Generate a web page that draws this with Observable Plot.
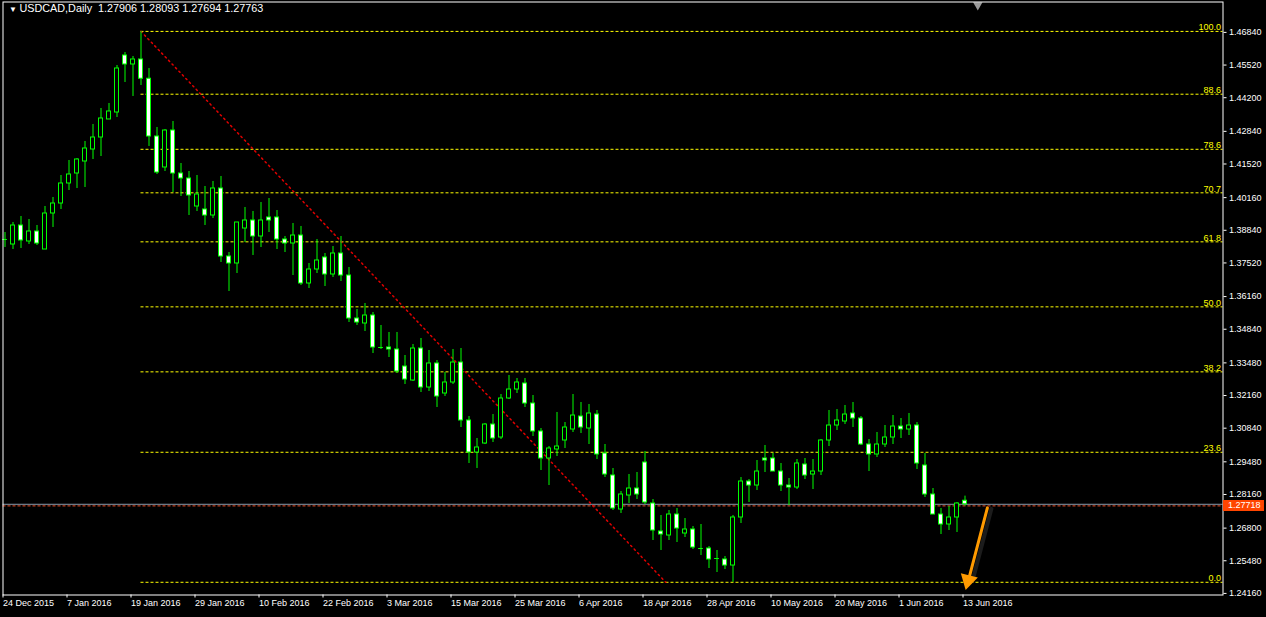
<!DOCTYPE html>
<html><head><meta charset="utf-8">
<script src="https://cdn.jsdelivr.net/npm/d3@7"></script>
<script src="https://cdn.jsdelivr.net/npm/@observablehq/plot@0.6"></script>
<style>
html,body{margin:0;padding:0;background:#000;overflow:hidden;}
svg{display:block;}
</style></head><body><div id="chart"></div>
<script>
// ---- data (USDCAD daily, bar index 0 = 24 Dec 2015) ----
const symbolName = "USDCAD,Daily";
const opens = [1.38468,1.38266,1.39034,1.38387,1.38791,1.38063,1.39519,1.39923,1.40732,1.41136,
1.41621,1.42106,1.42591,1.43320,1.43602,1.45906,1.45543,1.45745,1.44967,1.42632,
1.41379,1.42874,1.41136,1.40934,1.39802,1.39681,1.39438,1.40530,1.37780,1.37498,
1.38912,1.39236,1.38589,1.39357,1.39357,1.38468,1.38306,1.38629,1.36689,1.37255,
1.37740,1.37053,1.37902,1.37012,1.35274,1.35072,1.35395,1.34102,1.34102,1.34021,
1.33333,1.32767,1.34061,1.32484,1.33455,1.32242,1.32687,1.33495,1.31150,1.29857,
1.30220,1.30988,1.30463,1.32040,1.32403,1.32646,1.31837,1.30706,1.29614,1.29978,
1.30342,1.30786,1.31312,1.30827,1.31392,1.29816,1.28927,1.27552,1.28118,1.28401,
1.29452,1.27795,1.26663,1.26501,1.27350,1.26582,1.26744,1.25975,1.25975,1.25571,
1.25531,1.25288,1.27229,1.28684,1.28522,1.29614,1.29614,1.29088,1.28522,1.28441,
1.29371,1.28967,1.29088,1.30342,1.30948,1.31110,1.31433,1.31231,1.30180,1.29776,
1.30180,1.30463,1.30907,1.30786,1.30948,1.29331,1.28159,1.27350,1.26946,1.27229,
1.27906];
const highs = [1.38751,1.39155,1.39398,1.39276,1.39034,1.39802,1.40166,1.41055,1.41662,1.41742,
1.42430,1.43117,1.43764,1.43966,1.45502,1.46028,1.45866,1.46880,1.45381,1.42996,
1.42915,1.43238,1.41540,1.41217,1.41055,1.40610,1.40813,1.41015,1.37942,1.39155,
1.39762,1.39600,1.39964,1.40125,1.39640,1.38589,1.39115,1.38994,1.37498,1.38468,
1.37902,1.38185,1.38589,1.37336,1.35638,1.35880,1.35516,1.34991,1.34708,1.34708,
1.33778,1.34223,1.34465,1.33980,1.33576,1.33091,1.34021,1.34061,1.31312,1.30423,
1.31029,1.31392,1.32201,1.32970,1.32848,1.32848,1.32161,1.30827,1.30099,1.31474,
1.31069,1.32201,1.31878,1.31797,1.31555,1.30180,1.29210,1.28280,1.28967,1.29048,
1.29897,1.27956,1.27310,1.27512,1.27593,1.27188,1.26865,1.26946,1.26056,1.25895,
1.25652,1.27310,1.28846,1.28765,1.29533,1.30140,1.29816,1.29412,1.28806,1.29573,
1.29614,1.29573,1.30382,1.31555,1.31595,1.31757,1.31878,1.31312,1.30382,1.30665,
1.30948,1.31352,1.31231,1.31433,1.31069,1.29816,1.28401,1.27593,1.27674,1.27835,
1.28093];
const lows = [1.38144,1.38063,1.38104,1.38266,1.38225,1.38063,1.38953,1.39681,1.40449,1.40530,
1.40570,1.41702,1.41823,1.43320,1.43400,1.44815,1.44249,1.44694,1.42228,1.41096,
1.41217,1.40368,1.40206,1.39438,1.39600,1.39034,1.39317,1.37538,1.36366,1.37093,
1.38346,1.37821,1.38144,1.38751,1.38063,1.37942,1.37012,1.36608,1.36487,1.37093,
1.36567,1.36932,1.36770,1.35112,1.34991,1.34749,1.33859,1.34021,1.33697,1.33050,
1.32606,1.32727,1.32282,1.32323,1.31676,1.32121,1.32606,1.30867,1.29412,1.29210,
1.30180,1.30261,1.30382,1.32000,1.32242,1.31676,1.30503,1.29129,1.28522,1.29695,
1.30019,1.30665,1.30625,1.30180,1.29573,1.28846,1.27512,1.27391,1.27795,1.27956,
1.27754,1.26299,1.25895,1.26299,1.26218,1.26420,1.25935,1.25692,1.25167,1.25005,
1.25126,1.24610,1.26986,1.27835,1.28320,1.29048,1.29088,1.28280,1.27714,1.28360,
1.28765,1.28360,1.28927,1.30099,1.30746,1.30988,1.30867,1.30140,1.29088,1.29654,
1.30059,1.30180,1.30423,1.30544,1.29169,1.28037,1.27350,1.26542,1.26703,1.26623,
1.27694];
const closes = [1.38468,1.39034,1.38427,1.38791,1.38306,1.39519,1.39923,1.40732,1.41096,1.41702,
1.42147,1.42591,1.43360,1.43643,1.45381,1.45543,1.45745,1.44967,1.42632,1.41176,
1.42874,1.41136,1.40934,1.40247,1.40287,1.39438,1.40530,1.37780,1.37498,1.39155,
1.39236,1.38589,1.39236,1.39236,1.38468,1.38306,1.38629,1.36689,1.37255,1.37619,
1.37053,1.37902,1.37012,1.35274,1.35112,1.35395,1.34102,1.34102,1.34021,1.33131,
1.32808,1.34061,1.32484,1.33455,1.32121,1.32687,1.33495,1.31150,1.29857,1.30059,
1.30988,1.30423,1.32040,1.32403,1.32687,1.31837,1.30706,1.29614,1.30019,1.30099,
1.30867,1.31352,1.30867,1.31433,1.29776,1.28967,1.27593,1.28159,1.28401,1.28159,
1.27835,1.26703,1.26542,1.27350,1.26784,1.26744,1.26016,1.25975,1.25531,1.25571,
1.25288,1.27229,1.28684,1.28522,1.29088,1.29533,1.29088,1.28522,1.28441,1.29412,
1.28927,1.29088,1.30342,1.30948,1.31150,1.31392,1.31231,1.30180,1.29776,1.30180,
1.30463,1.30907,1.30786,1.30948,1.29412,1.28159,1.27350,1.26946,1.27229,1.27795,
1.27763];

const dateTickIndex = [0,8,16,24,32,40,48,56,64,72,80,88,96,104,112,120];
const dateTickLabels = ["24 Dec 2015","7 Jan 2016","19 Jan 2016","29 Jan 2016","10 Feb 2016","22 Feb 2016",
  "3 Mar 2016","15 Mar 2016","25 Mar 2016","6 Apr 2016","18 Apr 2016","28 Apr 2016","10 May 2016",
  "20 May 2016","1 Jun 2016","13 Jun 2016"];
const priceTicks = [1.46840,1.45520,1.44200,1.42840,1.41520,1.40160,1.38840,1.37520,1.36160,
  1.34840,1.33480,1.32160,1.30840,1.29480,1.28160,1.26800,1.25480,1.24160];

const fibLabels = ["100.0","88.6","78.6","70.7","61.8","50.0","38.2","23.6","0.0"];
const fibPrices = [1.46880,1.44341,1.42114,1.40355,1.38373,1.35745,1.33117,1.29866,1.24610];
const fibAnchorIndex = [17, 82.6];
const fibAnchorPrice = [1.46880, 1.24610];

const bidPrice = 1.27763;
const linePrice = 1.27718;
const arrowFrom = {i: 122.8, p: 1.27620};
const arrowTo = {i: 120.2, p: 1.24450};
const arrowHead = {i: 120.45, p: 1.24720};
const shiftIndex = 121.6;

// ---- build ----
const bars = opens.map((o, i) => ({i, o, h: highs[i], l: lows[i], c: closes[i]}));
const dojis = bars.filter(d => d.o === d.c);
const bodies = bars.filter(d => d.o !== d.c);
const xDomain = [-0.25, 152.25];
const yDomain = [1.24096, 1.48069];
const fib = fibPrices.map((p, k) => ({p, label: fibLabels[k]}));
const last = bars[bars.length - 1];
const headerText = symbolName + "\u00a0\u00a0" + [last.o, last.h, last.l, last.c].map(v => v.toFixed(5)).join(" ");
const font = "'Liberation Sans', Arial, sans-serif";
const arrowSeg = [arrowFrom, arrowHead];
const axisBarUnits = 41 / 8; // price-box width on the right axis, in bar units

const chart = Plot.plot({
  width: 1266, height: 617,
  marginLeft: 2.5, marginTop: 1.5, marginRight: 43.5, marginBottom: 22.5,
  style: {background: "#000", color: "#fff", fontFamily: font, fontSize: "9px"},
  x: {domain: xDomain, axis: null, label: null},
  y: {domain: yDomain, axis: null, label: null},
  marks: [
    Plot.ruleY([bidPrice], {stroke: "#8a9aaa", strokeWidth: 1}),
    Plot.ruleY([linePrice], {stroke: "#e8502a", strokeDasharray: "3,2", dy: 0.5}),
    Plot.ruleY(fib, {y: "p", x1: fibAnchorIndex[0], x2: xDomain[1], stroke: "#ffff00", strokeDasharray: "3,2"}),
    Plot.text(fib, {y: "p", text: "label", frameAnchor: "right", textAnchor: "end", lineAnchor: "bottom", dx: -2, dy: -1, fill: "#ffff00", fontSize: 9}),
    Plot.line(fibAnchorIndex.map((i, k) => ({i, p: fibAnchorPrice[k]})), {x: "i", y: "p", stroke: "#e00000", strokeDasharray: "1.5,3.5"}),
    Plot.ruleX(bars, {x: "i", y1: "l", y2: "h", stroke: "#00ff00"}),
    Plot.rect(bodies, {x1: d => d.i - 0.25, x2: d => d.i + 0.25, y1: "o", y2: "c",
      fill: d => d.c < d.o ? "#ffffff" : "#000000", stroke: "#00ff00"}),
    Plot.ruleY(dojis, {y: "o", x1: d => d.i - 0.3, x2: d => d.i + 0.3, stroke: "#00ff00"}),
    // arrow shadow, shaft and filled head
    Plot.line(arrowSeg, {x: "i", y: "p", stroke: "#1c1c1c", strokeWidth: 4, dx: 4, dy: 1}),
    Plot.line(arrowSeg, {x: "i", y: "p", stroke: "#ff9a00", strokeWidth: 3}),
    Plot.dot([arrowTo], {x: "i", y: "p", symbol: "triangle", rotate: 194, r: 6.5, fill: "#ff9a00", stroke: null, dy: -6, dx: 1.5}),
    Plot.dot([shiftIndex], {x: d => d, frameAnchor: "top", symbol: "triangle", rotate: 180, r: 3.5, fill: "#9a9a9a", stroke: null, dy: 3}),
    Plot.frame({stroke: "#ffffff"}),
    Plot.axisX({ticks: dateTickIndex, tickFormat: d => dateTickLabels[dateTickIndex.indexOf(d)], label: null,
      tickSize: 3, tickPadding: 2, textAnchor: "start", dx: -2, fontSize: 9, fill: "#fff", stroke: "#fff"}),
    Plot.axisY({anchor: "right", ticks: priceTicks, tickFormat: d => d.toFixed(5), tickSize: 3, tickPadding: 3, label: null,
      textAnchor: "start", fontSize: 9, fill: "#fff", stroke: "#fff"}),
    // current price box on the axis
    Plot.ruleY([linePrice], {x1: xDomain[1] + 0.06, x2: xDomain[1] + 0.06 + axisBarUnits, stroke: "#ff4500", strokeWidth: 11}),
    Plot.text([linePrice], {y: d => d, text: d => d.toFixed(5), frameAnchor: "right", textAnchor: "start", dx: 5, fill: "#fff", fontSize: 9}),
    Plot.text(["\u25BC"], {frameAnchor: "top-left", dx: 6, dy: 4.5, lineAnchor: "top", textAnchor: "start", fill: "#fff", fontSize: 8}),
    Plot.text([headerText], {frameAnchor: "top-left", dx: 16.5, dy: 2.5, lineAnchor: "top", textAnchor: "start", fill: "#fff", fontSize: 10.8})
  ]
});
document.getElementById("chart").appendChild(chart);
</script></body></html>
